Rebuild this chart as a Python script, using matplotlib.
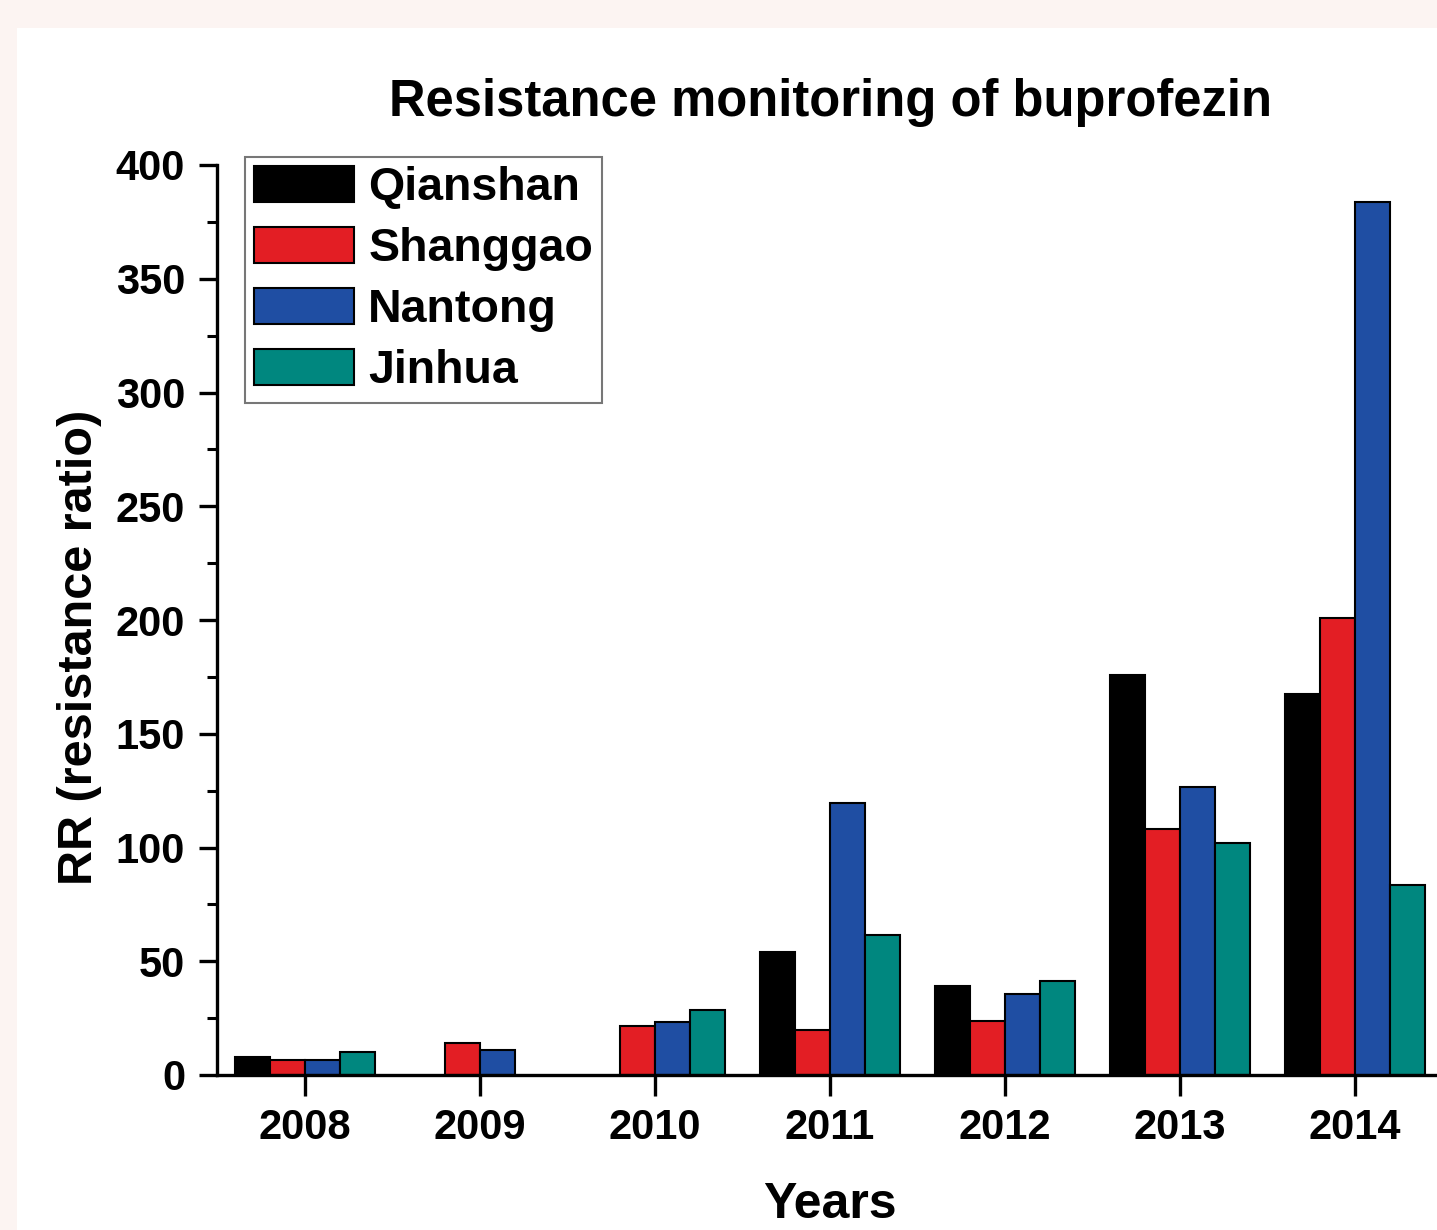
import numpy as np
import matplotlib
matplotlib.use("Agg")
import matplotlib.pyplot as plt
from matplotlib.patches import Rectangle
from matplotlib.ticker import MultipleLocator

years = ["2008", "2009", "2010", "2011", "2012", "2013", "2014"]
series_names = ["Qianshan", "Shanggao", "Nantong", "Jinhua"]
qianshan = [7.8, np.nan, np.nan, 54.2, 39.1, 175.8, 167.5]
shanggao = [6.8, 14.0, 21.5, 19.8, 23.7, 108.0, 200.9]
nantong = [6.6, 11.0, 23.3, 119.7, 35.5, 126.5, 383.9]
jinhua = [10.0, np.nan, 28.6, 61.5, 41.5, 101.8, 83.5]
colors = ["#000000", "#E31E24", "#1F4EA3", "#00877F"]

plt.rcParams['font.family'] = ['Liberation Sans', 'DejaVu Sans']
plt.rcParams['font.weight'] = 'bold'

fig = plt.figure(figsize=(14.37, 12.30), dpi=100)
fig.patch.set_facecolor("#FCF4F2")
fig.patches.append(Rectangle((17/1437, 0), 1 - 17/1437, 1 - 28/1230,
                             transform=fig.transFigure, facecolor="white",
                             edgecolor="none", zorder=-10))

ax = fig.add_axes([217/1437, 155/1230, (1442-217)/1437, (1075-165)/1230])
ax.set_facecolor("none")
ax.set_zorder(5)

x = np.arange(len(years))
w = 0.2
data = [qianshan, shanggao, nantong, jinhua]
for i, (name, vals, c) in enumerate(zip(series_names, data, colors)):
    ax.bar(x + (i - 1.5) * w, vals, width=w, color=c, edgecolor="black",
           linewidth=1.5, label=name, zorder=2)

ax.set_xlim(-0.5, 6.5)
ax.set_ylim(0, 400)
ax.set_xticks(x)
ax.set_xticklabels(years)
ax.yaxis.set_major_locator(MultipleLocator(50))
ax.yaxis.set_minor_locator(MultipleLocator(25))

for s in ["top", "right"]:
    ax.spines[s].set_visible(False)
for s in ["left", "bottom"]:
    ax.spines[s].set_linewidth(2.4)
    ax.spines[s].set_zorder(3)

ax.tick_params(axis="y", which="major", direction="out", length=13,
               width=2.4, labelsize=30, pad=10)
ax.tick_params(axis="x", which="major", direction="out", length=15,
               width=2.4, labelsize=30, pad=9)
ax.tick_params(axis="y", which="minor", direction="out", length=7, width=2.2)
ax.tick_params(axis="x", which="minor", bottom=False)
for lab in ax.get_xticklabels() + ax.get_yticklabels():
    lab.set_fontweight("bold")

ax.set_title("Resistance monitoring of buprofezin", fontsize=36.5,
             fontweight="bold", pad=35, x=(830-217)/(1442-217))
ax.set_xlabel("Years", fontsize=36, fontweight="bold", labelpad=24,
              x=(830-217)/(1442-217))
ax.set_ylabel("RR (resistance ratio)", fontsize=35, fontweight="bold",
              labelpad=10, y=(1075-647)/910)

leg = ax.legend(loc="upper left", bbox_to_anchor=(28/1225, 1.009),
                fontsize=33.5, frameon=True, fancybox=False,
                handlelength=2.15, handleheight=0.82, handletextpad=0.3,
                labelspacing=0.36, borderpad=0.2, borderaxespad=0)
leg.get_frame().set_edgecolor("#555555")
leg.get_frame().set_linewidth(1.5)
for t in leg.get_texts():
    t.set_fontweight("bold")

fig.savefig("out.png", dpi=100, facecolor=fig.get_facecolor())
